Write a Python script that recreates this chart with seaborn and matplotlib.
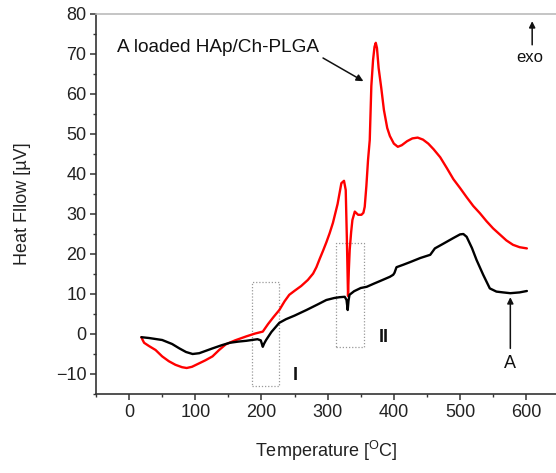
import matplotlib
matplotlib.use("Agg")
import matplotlib.pyplot as plt
from matplotlib.patches import Rectangle
from matplotlib.ticker import MultipleLocator
import seaborn as sns
import pandas as pd

# ---- data ----
red_T = [18.6, 20.5, 22.7, 30, 40, 50, 60, 70, 80, 87, 95, 105, 115, 126, 136, 146, 160, 177,
         190, 202, 210, 218, 227, 235, 242, 250, 260, 270, 278, 283, 288, 293, 298, 303, 308,
         315, 320.7, 324.7, 327.3, 329, 330.8, 332, 333.3, 335.5, 337.4, 341, 346, 351, 354,
         356, 358.5, 361, 363.6, 366, 368.6, 370.8, 372.7, 374.5, 377, 381, 385, 390, 394,
         400, 406, 412, 420, 428, 436, 444, 452, 460, 470, 480, 490, 500, 510, 520, 530,
         540, 550, 560, 570, 580, 590, 601]
red_HF = [-0.8, -1.5, -2.2, -3.0, -4.0, -5.6, -6.8, -7.7, -8.3, -8.5, -8.2, -7.4, -6.6, -5.6,
          -4.0, -2.6, -1.6, -0.6, 0.1, 0.6, 2.5, 4.2, 6.0, 8.2, 9.8, 10.8, 12.0, 13.5, 15.1,
          16.7, 18.8, 20.8, 22.9, 25.2, 27.8, 32.5, 37.7, 38.3, 36.0, 24.0, 9.5, 16.0, 21.0,
          25.5, 28.5, 30.6, 29.8, 29.8, 30.3, 31.8, 37.0, 43.5, 48.5, 62.0, 68.5, 71.8,
          72.8, 71.5, 66.5, 61.5, 56.0, 51.5, 49.5, 47.6, 46.8, 47.2, 48.2, 48.9, 49.1, 48.6,
          47.6, 46.2, 44.2, 41.5, 38.7, 36.5, 34.2, 32.0, 30.2, 28.2, 26.4, 24.9, 23.4, 22.3,
          21.7, 21.4]

black_T = [18.6, 30, 50, 65, 76, 86, 96, 106, 116, 126, 140, 152, 165, 177, 194, 199, 202, 204,
           207, 215, 227, 237, 250, 268, 285, 298, 310, 318, 325.8, 328.5, 330.3, 331.5, 333,
           340, 350, 359, 370, 380, 394, 399, 401, 404, 414, 425, 440, 455, 462, 475, 490,
           500, 505, 510, 518, 525, 535, 545, 555, 565, 576, 590, 601]
black_HF = [-0.8, -1.0, -1.5, -2.5, -3.6, -4.5, -5.0, -4.8, -4.2, -3.6, -2.8, -2.2, -1.9, -1.7,
            -1.3, -1.6, -3.2, -2.4, -1.5, 0.5, 2.8, 3.7, 4.6, 6.0, 7.4, 8.5, 9.0, 9.2, 9.3,
            8.5, 6.0, 8.3, 9.8, 10.7, 11.5, 11.8, 12.6, 13.3, 14.3, 14.8, 15.3, 16.7, 17.3,
            18.0, 19.0, 19.8, 21.4, 22.6, 24.0, 24.9, 25.0, 24.3, 21.5, 18.5, 14.8, 11.4, 10.6,
            10.4, 10.2, 10.4, 10.75]

series_names = ["A loaded HAp/Ch-PLGA", "A"]

df = pd.concat([
    pd.DataFrame({"T": red_T, "HF": red_HF, "s": series_names[0]}),
    pd.DataFrame({"T": black_T, "HF": black_HF, "s": series_names[1]}),
], ignore_index=True)

sns.set_style("ticks")
plt.rcParams["font.family"] = ["Liberation Sans", "DejaVu Sans"]
plt.rcParams["mathtext.fontset"] = "custom"
plt.rcParams["mathtext.rm"] = "Liberation Sans"
plt.rcParams["mathtext.it"] = "Liberation Sans:italic"

fig = plt.figure(figsize=(5.56, 4.73), dpi=100)
ax = fig.add_axes([96 / 556, 1 - 394 / 473, (556 - 96) / 556, (394 - 14) / 473])

sns.lineplot(data=df, x="T", y="HF", hue="s", palette=["#ff0000", "#000000"],
             sort=False, estimator=None, linewidth=1.7, legend=False, ax=ax)

ax.set_xlim(-50, 645)
ax.set_ylim(-15, 80)
ax.xaxis.set_major_locator(MultipleLocator(100))
ax.xaxis.set_minor_locator(MultipleLocator(50))
ax.yaxis.set_major_locator(MultipleLocator(10))
ax.yaxis.set_minor_locator(MultipleLocator(5))
ax.set_xticks([0, 100, 200, 300, 400, 500, 600])
ax.set_yticks([-10, 0, 10, 20, 30, 40, 50, 60, 70, 80])

for sp in ["left", "bottom"]:
    ax.spines[sp].set_color("#333333")
    ax.spines[sp].set_linewidth(1.2)
ax.spines["top"].set_color("#bbbbbb")
ax.spines["top"].set_linewidth(1.2)
ax.spines["right"].set_visible(False)

ax.tick_params(axis="both", which="major", direction="out", length=4, width=1.1,
               color="#333333", labelsize=13, labelcolor="#222222", pad=3)
ax.tick_params(axis="both", which="minor", direction="out", length=2.5, width=1.0,
               color="#333333")
ax.tick_params(top=False, right=False, which="both")

ax.set_xlabel(r"Temperature [$^{\mathrm{O}}$C]", fontsize=13, color="#222222", labelpad=13)
ax.set_ylabel("Heat Fllow [\u00b5V]", fontsize=13, color="#222222", labelpad=18)

# annotations
box_I = (185, -12.9, 41, 26.0)
box_II = (312, -3.3, 43, 26.1)
for (bx, by, bw, bh) in [box_I, box_II]:
    ax.add_patch(Rectangle((bx, by), bw, bh, fill=False, edgecolor="#999999",
                           linestyle=(0, (1, 1.5)), linewidth=0.9))

ax.text(-18, 71.5, series_names[0], fontsize=13.7, ha="left", va="center", color="#111111")
ax.annotate("", xy=(354, 63.2), xytext=(293, 69.0),
            arrowprops=dict(arrowstyle="-|>", color="#111111", lw=1.1,
                            mutation_scale=10, shrinkA=0, shrinkB=0))
ax.text(606, 69, "exo", fontsize=12, ha="center", va="center", color="#111111")
ax.annotate("", xy=(609, 78.2), xytext=(609, 72.3),
            arrowprops=dict(arrowstyle="-|>", color="#111111", lw=1.1,
                            mutation_scale=9, shrinkA=0, shrinkB=0))
ax.text(251, -10.3, "I", fontsize=13, fontweight="bold", ha="center", va="center",
        color="#111111")
ax.text(384, -1.0, "II", fontsize=13, fontweight="bold", ha="center", va="center",
        color="#111111")
ax.text(576, -7.3, series_names[1], fontsize=13, ha="center", va="center", color="#111111")
ax.annotate("", xy=(576, 9.2), xytext=(576, -3.6),
            arrowprops=dict(arrowstyle="-|>", color="#111111", lw=1.1,
                            mutation_scale=9, shrinkA=0, shrinkB=0))

fig.savefig("out.png", dpi=100)
